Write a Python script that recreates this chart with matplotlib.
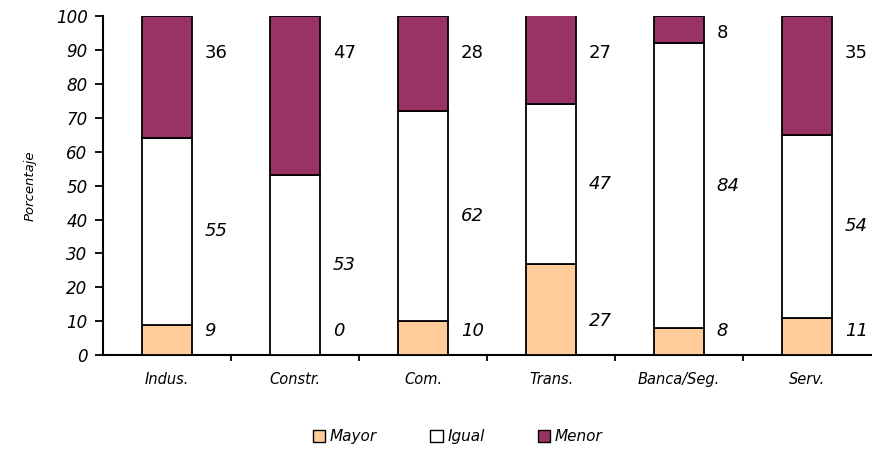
import matplotlib
matplotlib.use("Agg")
import matplotlib.pyplot as plt
import numpy as np
from matplotlib.patches import Patch

categories = ["Indus.", "Constr.", "Com.", "Trans.", "Banca/Seg.", "Serv."]
mayor = [9, 0, 10, 27, 8, 11]
igual = [55, 53, 62, 47, 84, 54]
menor = [36, 47, 28, 27, 8, 35]
y_ticks = [0, 10, 20, 30, 40, 50, 60, 70, 80, 90, 100]

c_mayor = "#FFCC99"
c_igual = "#FFFFFF"
c_menor = "#993366"

fig = plt.figure(figsize=(8.72, 4.5), dpi=100)
ax = fig.add_axes([0.118, 0.211, 0.881, 0.753])

x = np.arange(len(categories))
w = 0.39
mayor_a = np.array(mayor, float)
igual_a = np.array(igual, float)
menor_a = np.array(menor, float)
kw = dict(width=w, edgecolor="black", linewidth=1.3, zorder=3)
ax.bar(x, mayor_a, color=c_mayor, **kw)
ax.bar(x, igual_a, bottom=mayor_a, color=c_igual, **kw)
ax.bar(x, menor_a, bottom=mayor_a + igual_a, color=c_menor, **kw)

ax.set_xlim(-0.5, len(categories) - 0.5)
ax.set_ylim(0, 100)
ax.set_yticks(y_ticks)
ax.set_yticklabels([str(v) for v in y_ticks], fontsize=12, style="italic")
ax.set_xticks(x)
ax.set_xticklabels(categories, fontsize=10.5, style="italic")
ax.tick_params(axis="x", length=0, pad=12)
ax.set_xticks(np.arange(0.5, len(categories) - 0.5, 1), minor=True)
ax.tick_params(axis="x", which="minor", length=4, width=1.3, direction="out")
ax.tick_params(axis="y", length=6, width=1.3, direction="out", pad=5)
for s in ["top", "right"]:
    ax.spines[s].set_visible(False)
for s in ["left", "bottom"]:
    ax.spines[s].set_linewidth(1.5)
ax.set_ylabel("Porcentaje", fontsize=9.5, style="italic", labelpad=14)

off = w / 2 + 0.1
for i in range(len(categories)):
    yc_m = min(max(mayor_a[i] / 2, 7), 10)
    yc_i = mayor_a[i] + igual_a[i] / 2
    yc_n = min(max(mayor_a[i] + igual_a[i] + menor_a[i] / 2, 89), 95)
    ax.text(x[i] + off, yc_m, f"{mayor[i]}", fontsize=13, style="italic", va="center", ha="left")
    ax.text(x[i] + off, yc_i, f"{igual[i]}", fontsize=13, style="italic", va="center", ha="left")
    ax.text(x[i] + off, yc_n, f"{menor[i]}", fontsize=13, va="center", ha="left")

handles = [Patch(facecolor=c_mayor, edgecolor="black", label="Mayor"),
           Patch(facecolor=c_igual, edgecolor="black", label="Igual"),
           Patch(facecolor=c_menor, edgecolor="black", label="Menor")]
fig.legend(handles=handles, loc="center", bbox_to_anchor=(0.525, 0.03), ncol=3,
           frameon=False, prop={"size": 11, "style": "italic"},
           handlelength=0.8, handleheight=0.8, handletextpad=0.3, columnspacing=3.5)

fig.savefig("out.png", dpi=100)
